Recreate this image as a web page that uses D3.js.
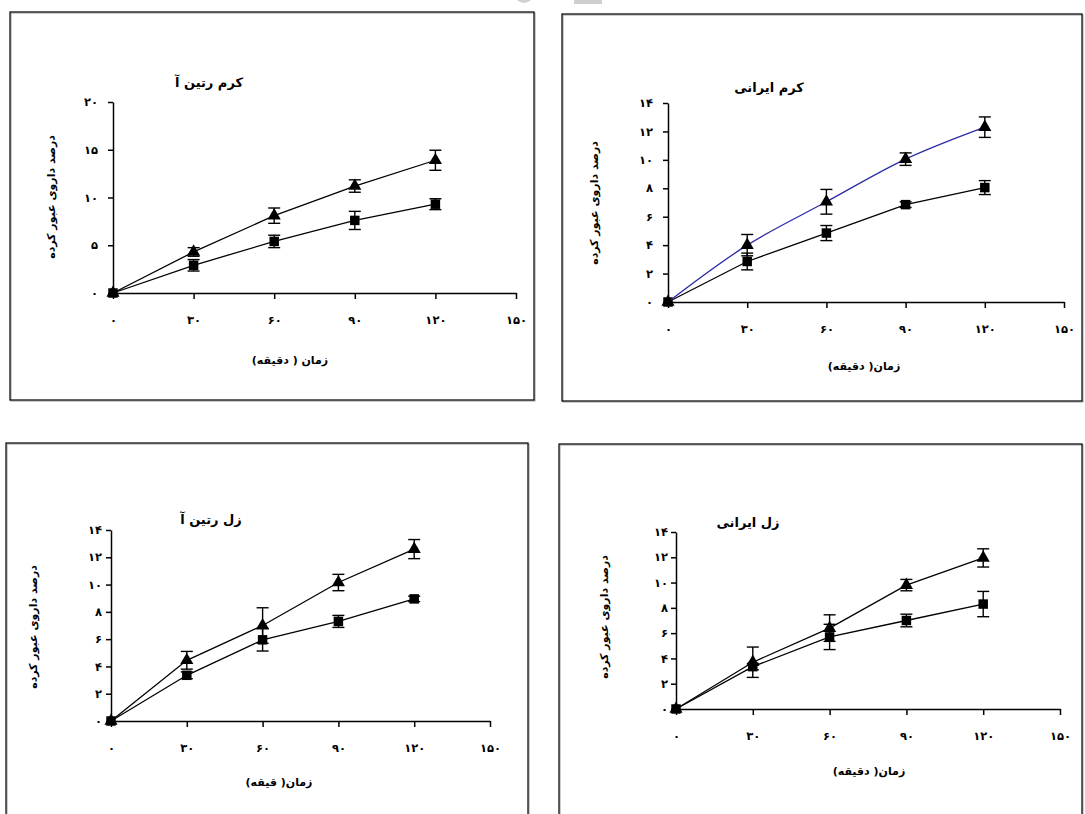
<!DOCTYPE html>
<html>
<head>
<meta charset="utf-8">
<script src="https://cdn.jsdelivr.net/npm/d3@7/dist/d3.min.js"></script>
<style>
  html, body { margin: 0; padding: 0; background: #ffffff; }
  svg { display: block; }
  text { font-family: "DejaVu Sans", "Noto Sans", sans-serif; font-weight: bold; fill: #000; }
</style>
</head>
<body>
<svg id="chart" width="1085" height="814"></svg>
<script>
// ---------- data ----------
const times = [0, 30, 60, 90, 120];
const xTicks = [0, 30, 60, 90, 120, 150];
const yTicksCream = [0, 5, 10, 15, 20];
const yTicksOther = [0, 2, 4, 6, 8, 10, 12, 14];
const titles = ["کرم رتین آ", "کرم ایرانی", "زل رتین آ", "زل ایرانی"];
const xTitles = ["زمان ( دقیقه)", "زمان( دقیقه)", "زمان( قیقه)", "زمان( دقیقه)"];
const yTitle = "درصد داروی عبور کرده";

const creamRetinTri = [0, 4.3, 8.1, 11.2, 13.9];
const creamRetinTriErr = [0, 0.45, 0.8, 0.65, 1.05];
const creamRetinSq = [0, 2.9, 5.4, 7.6, 9.3];
const creamRetinSqErr = [0, 0.6, 0.65, 0.95, 0.57];

const creamIraniTri = [0, 4.0, 7.05, 10.05, 12.3];
const creamIraniTriErr = [0, 0.75, 0.87, 0.44, 0.72];
const creamIraniSq = [0, 2.85, 4.85, 6.85, 8.05];
const creamIraniSqErr = [0, 0.59, 0.53, 0.2, 0.49];

const gelRetinTri = [0, 4.45, 7.0, 10.15, 12.6];
const gelRetinTriErr = [0, 0.65, 1.3, 0.6, 0.7];
const gelRetinSq = [0, 3.35, 5.95, 7.3, 8.95];
const gelRetinSqErr = [0, 0.25, 0.82, 0.44, 0.2];

const gelIraniTri = [0, 3.7, 6.4, 9.8, 11.95];
const gelIraniTriErr = [0, 1.2, 1.05, 0.45, 0.72];
const gelIraniSq = [0, 3.35, 5.7, 7.0, 8.3];
const gelIraniSqErr = [0, 0.25, 1.0, 0.5, 1.0];

// ---------- layout ----------
const panels = [
  { frame: [10, 12, 534, 400], xr: [113, 516], yr: [293, 102], yMax: 20, yTicks: yTicksCream,
    title: [209, 83], yt: [52, 197], xt: [290, 361], yLabOff: 15,
    tri: creamRetinTri, triErr: creamRetinTriErr, sq: creamRetinSq, sqErr: creamRetinSqErr,
    triColor: "#000", smooth: false },
  { frame: [562, 14, 1082, 401], xr: [668, 1064], yr: [302, 103], yMax: 14, yTicks: yTicksOther,
    title: [769, 88], yt: [595, 203], xt: [864, 367], yLabOff: 15,
    tri: creamIraniTri, triErr: creamIraniTriErr, sq: creamIraniSq, sqErr: creamIraniSqErr,
    triColor: "#2b2ba6", smooth: true },
  { frame: [6, 443, 528, 830], xr: [111, 490], yr: [721, 530], yMax: 14, yTicks: yTicksOther,
    title: [211, 520], yt: [34, 627], xt: [279, 783], yLabOff: 9,
    tri: gelRetinTri, triErr: gelRetinTriErr, sq: gelRetinSq, sqErr: gelRetinSqErr,
    triColor: "#000", smooth: false },
  { frame: [559, 444, 1082, 830], xr: [676, 1060], yr: [709, 532], yMax: 14, yTicks: yTicksOther,
    title: [748, 523], yt: [605, 617], xt: [869, 772], yLabOff: 8,
    tri: gelIraniTri, triErr: gelIraniTriErr, sq: gelIraniSq, sqErr: gelIraniSqErr,
    triColor: "#000", smooth: false }
];
panels.forEach((p, i) => { p.titleText = titles[i]; p.xTitleText = xTitles[i]; });

const faDigits = "۰۱۲۳۴۵۶۷۸۹";
const toFa = n => String(n).replace(/[0-9]/g, d => faDigits[+d]);

const svg = d3.select("#chart");

// small grey artifacts at top of page
svg.append("path").attr("d", "M517,0 Q524,6 531,0 Z").attr("fill", "#d0d0d0");
svg.append("rect").attr("x", 574).attr("y", 0).attr("width", 28).attr("height", 4).attr("fill", "#cfcfcf");

panels.forEach(p => {
  const g = svg.append("g");
  const [fx0, fy0, fx1, fy1] = p.frame;
  g.append("rect").attr("x", fx0 + 1).attr("y", fy0 + 1).attr("width", fx1 - fx0).attr("height", fy1 - fy0)
    .attr("fill", "none").attr("stroke", "#9a9a9a").attr("stroke-width", 1);
  g.append("rect").attr("x", fx0).attr("y", fy0).attr("width", fx1 - fx0).attr("height", fy1 - fy0)
    .attr("fill", "none").attr("stroke", "#111").attr("stroke-width", 1.3);

  const x = d3.scaleLinear().domain([0, 150]).range(p.xr);
  const y = d3.scaleLinear().domain([0, p.yMax]).range(p.yr);

  const xa = g.append("g").attr("transform", `translate(0,${p.yr[0]})`)
    .call(d3.axisBottom(x).tickValues(xTicks).tickSizeInner(6).tickSizeOuter(0).tickPadding(17).tickFormat(toFa));
  const ya = g.append("g").attr("transform", `translate(${p.xr[0]},0)`)
    .call(d3.axisLeft(y).tickValues(p.yTicks).tickSizeInner(5).tickSizeOuter(0).tickPadding(p.yLabOff - 5).tickFormat(toFa));
  [xa, ya].forEach(a => {
    a.select(".domain").attr("stroke", "#000").attr("stroke-width", 1.5);
    a.selectAll(".tick line").attr("stroke", "#000").attr("stroke-width", 1.5);
    a.selectAll(".tick text").attr("font-family", "DejaVu Sans").attr("font-weight", "bold")
      .attr("font-size", 11.5).attr("letter-spacing", "2px").attr("fill", "#000");
  });

  g.append("text").attr("x", p.title[0]).attr("y", p.title[1]).attr("text-anchor", "middle")
    .attr("dominant-baseline", "middle").attr("font-size", 13).attr("direction", "rtl").text(p.titleText);
  g.append("text").attr("x", p.xt[0]).attr("y", p.xt[1]).attr("text-anchor", "middle")
    .attr("dominant-baseline", "middle").attr("font-size", 11).attr("direction", "rtl").text(p.xTitleText);
  g.append("text").attr("transform", `translate(${p.yt[0]},${p.yt[1]}) rotate(-90)`)
    .attr("text-anchor", "middle").attr("dominant-baseline", "middle").attr("font-size", 11)
    .attr("direction", "rtl").text(yTitle);

  const series = [
    { vals: p.sq, err: p.sqErr, shape: d3.symbolSquare, size: 90, color: "#000", smooth: false },
    { vals: p.tri, err: p.triErr, shape: d3.symbolTriangle, size: 75, color: p.triColor, smooth: p.smooth }
  ];

  series.forEach(s => {
    const pts = times.map((t, i) => ({ t, v: s.vals[i], e: s.err[i] }));
    const line = d3.line().x(d => x(d.t)).y(d => y(d.v))
      .curve(s.smooth ? d3.curveCatmullRom.alpha(0.5) : d3.curveLinear);
    g.append("path").datum(pts).attr("d", line).attr("fill", "none")
      .attr("stroke", s.color).attr("stroke-width", 1.3);
    const eb = g.append("g").attr("stroke", "#000").attr("stroke-width", 1.4);
    pts.filter(d => d.e > 0).forEach(d => {
      const cx = x(d.t), y0 = y(d.v - d.e), y1 = y(d.v + d.e);
      eb.append("line").attr("x1", cx).attr("x2", cx).attr("y1", y0).attr("y2", y1);
      eb.append("line").attr("x1", cx - 6).attr("x2", cx + 6).attr("y1", y0).attr("y2", y0);
      eb.append("line").attr("x1", cx - 6).attr("x2", cx + 6).attr("y1", y1).attr("y2", y1);
    });
    g.append("g").selectAll("path").data(pts).join("path")
      .attr("transform", d => `translate(${x(d.t)},${y(d.v)})`)
      .attr("d", d3.symbol().type(s.shape).size(s.size))
      .attr("fill", "#000");
  });
});
</script>
</body>
</html>
